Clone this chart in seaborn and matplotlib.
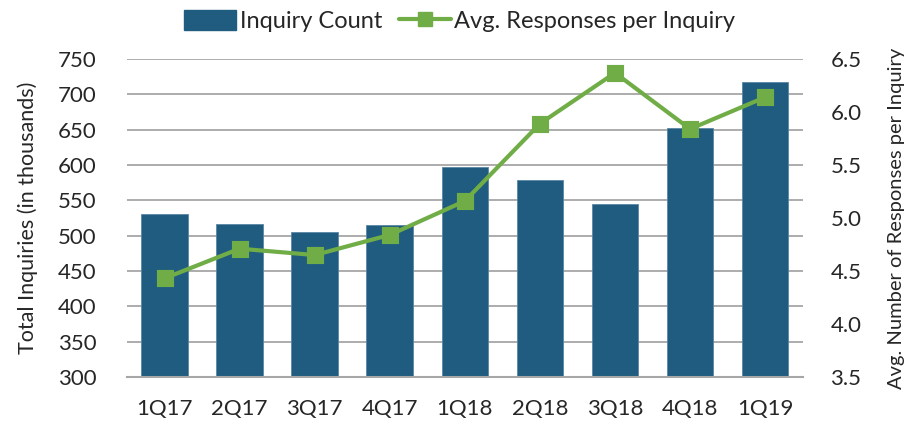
import matplotlib
matplotlib.use("Agg")
import matplotlib.pyplot as plt
import seaborn as sns
import pandas as pd
from matplotlib.patches import Patch
from matplotlib.lines import Line2D

quarters = ["1Q17", "2Q17", "3Q17", "4Q17", "1Q18", "2Q18", "3Q18", "4Q18", "1Q19"]
inquiry_count = [531, 517, 505, 515, 597, 579, 545, 653, 717]
avg_responses = [4.43, 4.71, 4.65, 4.84, 5.16, 5.89, 6.37, 5.84, 6.14]
left_ticks = [300, 350, 400, 450, 500, 550, 600, 650, 700, 750]
right_ticks = [3.5, 4.0, 4.5, 5.0, 5.5, 6.0, 6.5]

df = pd.DataFrame({"quarter": quarters, "count": inquiry_count, "avg": avg_responses})

sns.set_theme(style="white")
plt.rcParams["font.family"] = ["Lato", "DejaVu Sans"]

BAR = "#1F5C7F"
GREEN = "#70AD47"
GRID = "#A6A6A6"
TXT = "#262626"

fig = plt.figure(figsize=(9.07, 4.22), dpi=100)
ax = fig.add_axes([0.140, 0.107, 0.745, 0.753])

sns.barplot(data=df, x="quarter", y="count", color=BAR, saturation=1, width=0.62,
            edgecolor="#5A86A3", linewidth=0.6, ax=ax, zorder=2)
ax.set_ylim(300, 750)
ax.set_yticks(left_ticks)
ax.set_xlim(-0.5, 8.5)
ax.grid(axis="y", color=GRID, linewidth=1.3, zorder=0)
ax.set_axisbelow(True)
for s in ["top", "right", "left"]:
    ax.spines[s].set_visible(False)
ax.spines["bottom"].set_color(GRID)
ax.spines["bottom"].set_linewidth(1.5)
ax.tick_params(axis="both", length=0, labelsize=16, colors=TXT)
ax.tick_params(axis="x", pad=16)
ax.tick_params(axis="y", pad=22)
ax.set_xlabel("")
ax.set_ylabel("Total Inquiries (in thousands)", fontsize=15.5, color=TXT, labelpad=14)

ax2 = ax.twinx()
sns.pointplot(data=df, x="quarter", y="avg", color=GREEN, markers="s", linestyles="-",
              ax=ax2, markersize=10, linewidth=3)
ax2.set_ylim(3.5, 6.5)
ax2.set_yticks(right_ticks)
ax2.set_yticklabels([f"{t:.1f}" for t in right_ticks])
ax2.set_xlim(-0.5, 8.5)
for s in ["top", "right", "left", "bottom"]:
    ax2.spines[s].set_visible(False)
ax2.tick_params(axis="y", length=0, labelsize=16, colors=TXT, pad=20)
ax2.set_ylabel("Avg. Number of Responses per Inquiry", fontsize=14.5, color=TXT, labelpad=19)
ax2.grid(False)

handles = [Patch(facecolor=BAR, edgecolor=BAR),
           Line2D([0], [0], color=GREEN, lw=3, marker="s", markersize=10)]
labels = ["Inquiry Count", "Avg. Responses per Inquiry"]
fig.legend(handles, labels, loc="center", bbox_to_anchor=(0.507, 0.95), ncol=2,
           frameon=False, fontsize=17, handlelength=2.2, handleheight=0.9,
           handletextpad=0.15, columnspacing=0.7, labelcolor=TXT)

fig.savefig("out.png", dpi=100)
